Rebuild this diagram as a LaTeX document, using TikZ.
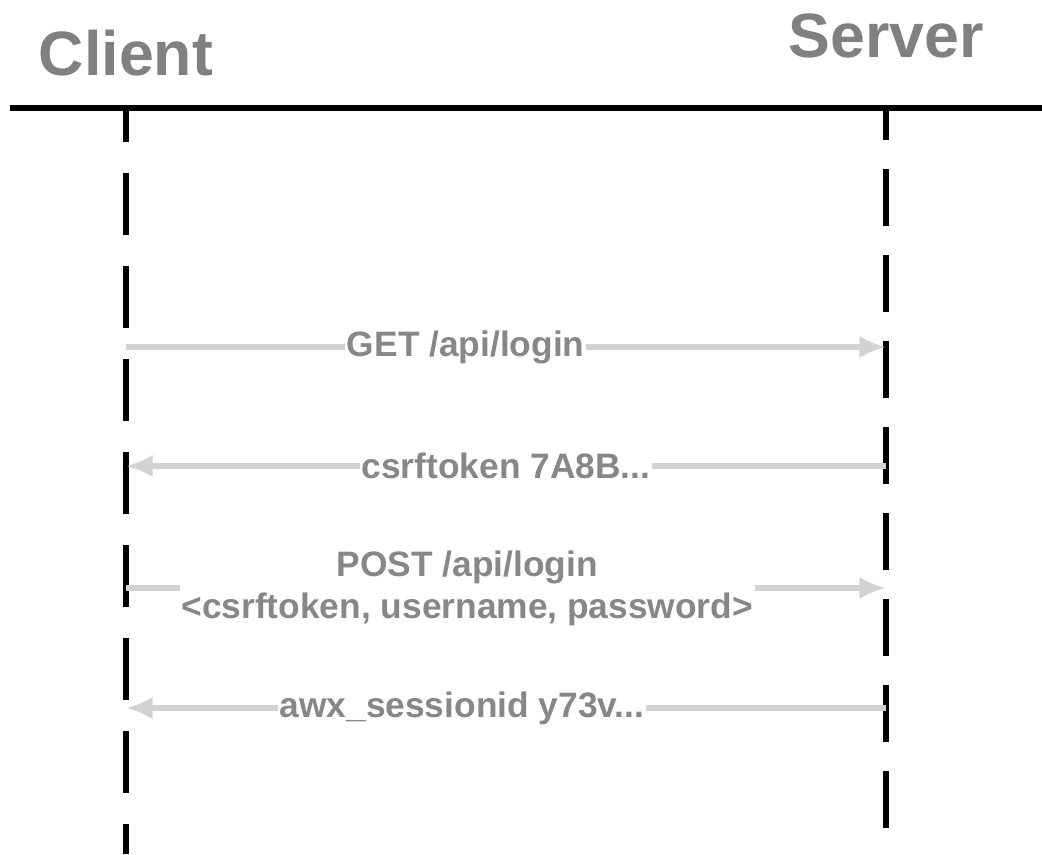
\documentclass[tikz,border=0pt]{standalone}
\usepackage{fontspec}
\setmainfont{Liberation Sans}
\usetikzlibrary{positioning,arrows.meta,calc}

\definecolor{titlegray}{HTML}{808080}
\definecolor{labelgray}{HTML}{878787}
\definecolor{msggray}{HTML}{D2D2D2}

\tikzset{
    party/.style = {
        text=titlegray,
        font=\bfseries\fontsize{47}{56}\selectfont,
        anchor=base,
        inner sep=0pt
    },
    lifeline/.style = {
        draw,
        line width=3.8pt
    },
    msg/.style = {
        draw=msggray,
        line width=4.5pt,
        -{Latex[length=20pt,width=17pt]}
    },
    msglabel/.style = {
        fill=white,
        text=labelgray,
        font=\bfseries\fontsize{26.5}{31.5}\selectfont,
        align=center,
        inner xsep=1.5pt,
        inner ysep=1pt
    },
}

\begin{document}
\begin{tikzpicture}[x=0.75pt, y=-0.75pt]
            \useasboundingbox (0,0) rectangle (1042,854);

            \node[party] (client) at (126,75) {Client};
            \node[party] (server) at (886,57) {Server};

            % lifelines
            \coordinate (ctop) at (126,108);
            \coordinate (cbot) at (126,854);
            \coordinate (stop) at (886,108);
            \coordinate (sbot) at (886,832);
            \path[lifeline, dash pattern=on 46.5pt off 23.25pt, dash phase=21pt] (ctop) -- (cbot);
            \path[lifeline, dash pattern=on 42.75pt off 21.75pt, dash phase=18.75pt] (stop) -- (sbot);
            \path[draw, line width=3.8pt] (10,108) -- (1042,108);

            % messages
            \coordinate (c1) at (126,347);
            \coordinate (s1) at (886,347);
            \coordinate (c2) at (126,466);
            \coordinate (s2) at (886,466);
            \coordinate (c3) at (126,588);
            \coordinate (s3) at (886,588);
            \coordinate (c4) at (126,708);
            \coordinate (s4) at (886,708);

            \path[msg] (c1) -- (s1) node[msglabel, pos=0.447] {GET /api/login};
            \path[msg] (s2) -- (c2) node[msglabel, pos=0.5] {csrftoken 7A8B...};
            \path[msg] (c3) -- (s3) node[msglabel, pos=0.449] {POST /api/login\\{<}csrftoken, username, password{>}};
            \path[msg] (s4) -- (c4) node[msglabel, pos=0.558] {awx\_sessionid y73v...};
        \end{tikzpicture}
\end{document}
